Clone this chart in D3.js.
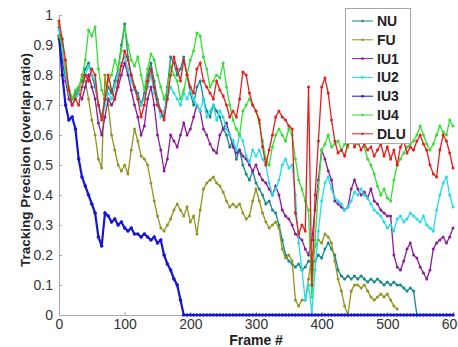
<!DOCTYPE html>
<html>
<head>
<meta charset="utf-8">
<script src="https://cdn.jsdelivr.net/npm/d3@7"></script>
<style>
  body { margin: 0; background: #fff; }
  svg { display: block; font-family: Arial, "Liberation Sans", sans-serif; }
</style>
</head>
<body>
<div id="chart"></div>
<script>
// frame index (sampled every 5 frames)
const frames = d3.range(0, 601, 5);
const xTicks = [0, 100, 200, 300, 400, 500, 600];
const yTicks = [0, 0.1, 0.2, 0.3, 0.4, 0.5, 0.6, 0.7, 0.8, 0.9, 1];
const seriesNames = ['NU', 'FU', 'IU1', 'IU2', 'IU3', 'IU4', 'DLU'];

const NU = [
  0.96, 0.9, 0.8, 0.74, 0.72, 0.74, 0.76, 0.78, 0.82, 0.84,
  0.8, 0.76, 0.7, 0.66, 0.72, 0.76, 0.74, 0.78, 0.82, 0.9,
  0.97, 0.86, 0.8, 0.76, 0.74, 0.7, 0.74, 0.8, 0.84, 0.78,
  0.72, 0.68, 0.66, 0.76, 0.86, 0.84, 0.8, 0.82, 0.86, 0.8,
  0.74, 0.7, 0.76, 0.78, 0.72, 0.68, 0.66, 0.7, 0.68, 0.66,
  0.62, 0.6, 0.56, 0.58, 0.52, 0.55, 0.5, 0.47, 0.45, 0.48,
  0.44, 0.42, 0.4, 0.37, 0.38, 0.35, 0.34, 0.3, 0.25, 0.2,
  0.18, 0.17, 0.16, 0.17, 0.15, 0.16, 0.18, 0.17, 0.18, 0.2,
  0.19, 0.22, 0.24, 0.22, 0.2, 0.15, 0.13, 0.12, 0.13, 0.12,
  0.13, 0.12, 0.13, 0.12, 0.11, 0.12, 0.11, 0.12, 0.11, 0.1,
  0.11, 0.1, 0.11, 0.1, 0.1, 0.09, 0.08, 0.09, 0.08, 0
];
const FU = [
  0.97, 0.9, 0.8, 0.75, 0.72, 0.73, 0.75, 0.8, 0.78, 0.72,
  0.65, 0.6, 0.52, 0.49, 0.8, 0.7, 0.6, 0.55, 0.5, 0.48,
  0.5, 0.47, 0.55, 0.62, 0.58, 0.53, 0.52, 0.5, 0.44, 0.38,
  0.33, 0.29, 0.28, 0.3, 0.32, 0.35, 0.37, 0.35, 0.33, 0.36,
  0.31, 0.33, 0.27, 0.35, 0.42, 0.44, 0.45, 0.46, 0.44, 0.43,
  0.41, 0.38, 0.36, 0.37, 0.36, 0.37, 0.34, 0.32, 0.33, 0.38,
  0.42, 0.38, 0.34, 0.31, 0.29, 0.3, 0.31, 0.29, 0.22, 0.19,
  0.2, 0.18, 0.05, 0.03, 0.05, 0.05, 0.12, 0.2, 0.23, 0.25,
  0.24, 0.27, 0.26, 0.24, 0.18, 0.12, 0.08, 0.03, 0, 0.08,
  0.1, 0.1, 0.09, 0.1, 0.08, 0.06, 0.05, 0.06, 0.07, 0.06,
  0.07, 0.05, 0.03, 0.02
];
const IU1 = [
  0.92, 0.85, 0.78, 0.72, 0.7, 0.72, 0.74, 0.72, 0.76, 0.8,
  0.76, 0.72, 0.64, 0.6, 0.66, 0.72, 0.7, 0.72, 0.76, 0.8,
  0.84, 0.8, 0.75, 0.7, 0.66, 0.6, 0.63, 0.72, 0.76, 0.7,
  0.6, 0.55, 0.48, 0.52, 0.6, 0.58, 0.56, 0.6, 0.64, 0.6,
  0.62, 0.66, 0.7, 0.68, 0.62, 0.6, 0.57, 0.55, 0.54, 0.6,
  0.62, 0.64, 0.6, 0.56, 0.54, 0.55, 0.53, 0.52, 0.5, 0.48,
  0.5, 0.47, 0.45, 0.44, 0.42, 0.4, 0.43, 0.4, 0.35, 0.33,
  0.32, 0.3, 0.27, 0.26, 0.25, 0.22, 0.2, 0.25, 0.35, 0.45,
  0.55, 0.52, 0.48, 0.45, 0.38, 0.37, 0.36, 0.35, 0.36, 0.42,
  0.45, 0.42, 0.4, 0.41, 0.39, 0.42, 0.38, 0.37, 0.35, 0.34,
  0.33, 0.33, 0.2, 0.16, 0.15, 0.18, 0.22, 0.24, 0.2, 0.19,
  0.16, 0.14, 0.12, 0.15, 0.22, 0.24, 0.25, 0.26, 0.24, 0.26,
  0.29
];
const IU2 = [
  0.95, 0.88, 0.8, 0.74, 0.7, 0.72, 0.74, 0.76, 0.8, 0.83,
  0.8, 0.78, 0.7, 0.66, 0.7, 0.74, 0.72, 0.76, 0.8, 0.84,
  0.86, 0.82, 0.78, 0.75, 0.72, 0.7, 0.72, 0.76, 0.8, 0.74,
  0.7, 0.66, 0.68, 0.72, 0.76, 0.74, 0.72, 0.7, 0.74, 0.72,
  0.75, 0.72, 0.7, 0.68, 0.72, 0.66, 0.68, 0.7, 0.65, 0.68,
  0.66, 0.62, 0.6, 0.58, 0.55, 0.6, 0.58, 0.53, 0.51, 0.55,
  0.53, 0.55, 0.52, 0.5, 0.44, 0.4, 0.42, 0.45, 0.5, 0.52,
  0.49, 0.5, 0.4, 0.24, 0.15, 0.05, 0.1, 0.01, 0.15, 0.28,
  0.38, 0.44, 0.46, 0.42, 0.39, 0.38, 0.37, 0.35, 0.36, 0.38,
  0.41, 0.4, 0.42, 0.4, 0.39, 0.37, 0.35, 0.34, 0.33, 0.31,
  0.29, 0.3, 0.28, 0.32, 0.33, 0.31, 0.32, 0.34, 0.33, 0.32,
  0.31, 0.33, 0.3, 0.29, 0.28, 0.35, 0.4, 0.44, 0.46, 0.4,
  0.36
];
const IU3 = [
  0.93, 0.8, 0.7, 0.65, 0.66, 0.62, 0.52, 0.46, 0.43, 0.4,
  0.37, 0.34, 0.26, 0.23, 0.34, 0.33, 0.31, 0.32, 0.3, 0.31,
  0.29, 0.28, 0.29, 0.27, 0.27, 0.26, 0.27, 0.26, 0.25, 0.26,
  0.24, 0.25, 0.2, 0.17, 0.15, 0.12, 0.1, 0.05, 0, 0,
  0, 0, 0, 0, 0, 0, 0, 0, 0, 0,
  0, 0, 0, 0, 0, 0, 0, 0, 0, 0,
  0, 0, 0, 0, 0, 0, 0, 0, 0, 0,
  0, 0, 0, 0, 0, 0, 0, 0, 0, 0,
  0, 0, 0, 0, 0, 0, 0, 0, 0, 0,
  0, 0, 0, 0, 0, 0, 0, 0, 0, 0,
  0, 0, 0, 0, 0, 0, 0, 0, 0, 0,
  0, 0, 0, 0, 0, 0, 0, 0, 0, 0,
  0
];
const IU4 = [
  0.93, 0.9, 0.82, 0.76, 0.72, 0.75, 0.76, 0.79, 0.85, 0.95,
  0.93, 0.96, 0.82, 0.75, 0.72, 0.78, 0.8, 0.85, 0.82, 0.88,
  0.96, 0.9, 0.85, 0.83, 0.86, 0.8, 0.75, 0.82, 0.87, 0.85,
  0.8, 0.76, 0.72, 0.75, 0.83, 0.8, 0.78, 0.72, 0.75, 0.8,
  0.85, 0.88, 0.94, 0.93, 0.86, 0.82, 0.76, 0.78, 0.8, 0.79,
  0.84, 0.76, 0.7, 0.65, 0.62, 0.6, 0.68, 0.7, 0.72, 0.7,
  0.68, 0.64, 0.58, 0.52, 0.5, 0.56, 0.6, 0.62, 0.6, 0.58,
  0.62, 0.6, 0.52, 0.45, 0.42, 0.38, 0.35, 0.06, 0.25, 0.42,
  0.55, 0.57, 0.6, 0.56, 0.57, 0.58, 0.55, 0.57, 0.56, 0.6,
  0.58, 0.57, 0.6, 0.56, 0.52, 0.5, 0.47, 0.43, 0.4, 0.42,
  0.39, 0.38, 0.45, 0.5, 0.52, 0.54, 0.56, 0.57, 0.58, 0.6,
  0.63, 0.6, 0.57, 0.55, 0.57, 0.6, 0.63, 0.61, 0.6, 0.65,
  0.63
];
const DLU = [
  0.98, 0.92, 0.85, 0.75, 0.7, 0.72, 0.7, 0.76, 0.8, 0.78,
  0.82, 0.8, 0.7, 0.65, 0.72, 0.8, 0.75, 0.72, 0.78, 0.83,
  0.88, 0.85, 0.8, 0.76, 0.72, 0.66, 0.7, 0.78, 0.82, 0.76,
  0.7, 0.68, 0.65, 0.72, 0.8, 0.86, 0.82, 0.78, 0.85, 0.8,
  0.76, 0.74, 0.82, 0.84, 0.78, 0.76, 0.74, 0.72, 0.78, 0.75,
  0.73, 0.7, 0.66, 0.68, 0.66, 0.72, 0.81, 0.8, 0.74, 0.7,
  0.68, 0.65, 0.56, 0.5, 0.55, 0.6, 0.66, 0.68, 0.66, 0.65,
  0.63, 0.62, 0.34, 0.27, 0.3, 0.28, 0.76, 0.1, 0.4, 0.58,
  0.76, 0.79, 0.74, 0.65, 0.58, 0.54, 0.55, 0.53, 0.57, 0.6,
  0.56, 0.58, 0.55, 0.57, 0.55, 0.56, 0.53, 0.55, 0.57, 0.53,
  0.56, 0.52, 0.55, 0.5, 0.56, 0.58, 0.54, 0.56, 0.55, 0.58,
  0.6, 0.57, 0.55, 0.5, 0.47, 0.46, 0.55, 0.6, 0.58, 0.54,
  0.49
];

const seriesValues = [NU, FU, IU1, IU2, IU3, IU4, DLU];
const colors = ['#13898a', '#939320', '#8a1c98', '#22dde8', '#1414d2', '#33e033', '#e81c1c'];

const width = 458, height = 347;
const margin = { top: 15, right: 5, bottom: 32, left: 59 };

const svg = d3.select('#chart')
  .append('svg')
  .attr('width', width)
  .attr('height', height);

const x = d3.scaleLinear()
  .domain([0, 600])
  .range([margin.left, width - margin.right]);

const y = d3.scaleLinear()
  .domain([0, 1])
  .range([height - margin.bottom, margin.top]);

// axes (left + bottom only, ticks pointing in)
const xAxis = svg.append('g')
  .attr('transform', `translate(0,${height - margin.bottom})`)
  .call(d3.axisBottom(x).tickValues(xTicks).tickSize(-3).tickPadding(4).tickFormat(d3.format('d')));

const yAxis = svg.append('g')
  .attr('transform', `translate(${margin.left},0)`)
  .call(d3.axisLeft(y).tickValues(yTicks).tickSize(-3).tickPadding(6).tickFormat(d => d === 0 || d === 1 ? d : d.toFixed(1)));

[xAxis, yAxis].forEach(g => {
  g.select('.domain').attr('stroke', '#a8a8a8');
  g.selectAll('.tick line').attr('stroke', '#a8a8a8');
  g.selectAll('.tick text')
    .attr('fill', '#333')
    .style('font-size', '14px')
    .style('font-family', 'Arial, "Liberation Sans", sans-serif');
});

// axis titles
svg.append('text')
  .attr('x', 256)
  .attr('y', 345)
  .attr('text-anchor', 'middle')
  .style('font-size', '14px')
  .style('font-weight', 'bold')
  .attr('fill', '#222')
  .text('Frame #');

svg.append('text')
  .attr('transform', 'rotate(-90)')
  .attr('x', -160)
  .attr('y', 30)
  .attr('text-anchor', 'middle')
  .style('font-size', '13.5px')
  .style('font-weight', 'bold')
  .attr('fill', '#222')
  .text('Tracking Precision (overlap ratio)');

// lines with dot markers
const line = d3.line()
  .x(d => x(d[0]))
  .y(d => y(d[1]));

seriesValues.forEach((vals, i) => {
  const pts = vals.map((v, j) => [frames[j], v]);
  const g = svg.append('g');
  g.append('path')
    .datum(pts)
    .attr('fill', 'none')
    .attr('stroke', colors[i])
    .attr('stroke-width', i === 4 ? 2.2 : 1.3)
    .attr('d', line);
  g.selectAll('circle')
    .data(pts)
    .enter()
    .append('circle')
    .attr('cx', d => x(d[0]))
    .attr('cy', d => y(d[1]))
    .attr('r', i === 4 ? 1.8 : 1.5)
    .attr('fill', colors[i]);
});

// legend
const legend = svg.append('g');
legend.append('rect')
  .attr('x', 345.5)
  .attr('y', 8.5)
  .attr('width', 65)
  .attr('height', 135)
  .attr('fill', '#fff')
  .attr('stroke', '#aaa');

seriesNames.forEach((name, i) => {
  const ly = 21 + i * 18.8;
  legend.append('line')
    .attr('x1', 352).attr('x2', 373)
    .attr('y1', ly).attr('y2', ly)
    .attr('stroke', colors[i])
    .attr('stroke-width', 1);
  legend.append('circle')
    .attr('cx', 362.5).attr('cy', ly).attr('r', 1.3)
    .attr('fill', colors[i]);
  legend.append('text')
    .attr('x', 377)
    .attr('y', ly + 5)
    .style('font-size', '14px')
    .style('font-weight', 'bold')
    .attr('fill', '#222')
    .text(name);
});
</script>
</body>
</html>
